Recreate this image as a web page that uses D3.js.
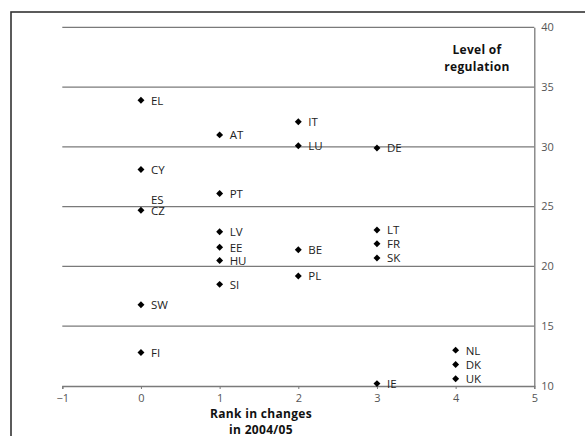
<!DOCTYPE html>
<html>
<head>
<meta charset="utf-8">
<script src="https://cdn.jsdelivr.net/npm/d3@7"></script>
<style>
  html, body { margin: 0; padding: 0; background: #fff; }
  svg { display: block; }
  text { font-family: "Open Sans", "Noto Sans", sans-serif; }
</style>
</head>
<body>
<svg id="chart" width="585" height="436"></svg>
<script>
// ---- data ----
const countries = ["EL","AT","IT","LU","DE","CY","PT","ES","CZ","LV","EE","HU","SI","BE","PL","LT","FR","SK","SW","FI","NL","DK","UK","IE"];
const rankChange = [0,1,2,2,3,0,1,0,0,1,1,1,1,2,2,3,3,3,0,0,4,4,4,3];
const regulation = [33.9,31.0,32.1,30.1,29.9,28.1,26.1,24.7,24.7,22.9,21.6,20.5,18.5,21.4,19.2,23.05,21.9,20.7,16.8,12.8,13.0,11.8,10.6,10.2];
const xTicks = [-1,0,1,2,3,4,5];
const yTicks = [10,15,20,25,30,35,40];
const xTitle = ["Rank in changes", "in 2004/05"];
const yTitle = ["Level of", "regulation"];

// label offsets (style only)
const labelShift = { ES: -11 };

const svg = d3.select("#chart");

// outer frame
svg.append("rect")
  .attr("x", 11).attr("y", 12)
  .attr("width", 600).attr("height", 460)
  .attr("fill", "none").attr("stroke", "#333").attr("stroke-width", 1.6);

const x = d3.scaleLinear().domain([-1, 5]).range([62.3, 534.3]);
const y = d3.scaleLinear().domain([10, 40]).range([386, 27.3]);

const grid = "#7a7a7a";

// horizontal gridlines
svg.append("g").selectAll("line")
  .data(yTicks.filter(v => v > 10))
  .join("line")
  .attr("x1", x(-1)).attr("x2", x(5))
  .attr("y1", d => y(d)).attr("y2", d => y(d))
  .attr("stroke", grid).attr("stroke-width", 1.3);

// x axis (bottom)
const xAxis = d3.axisBottom(x).tickValues(xTicks).tickSize(3).tickPadding(5).tickFormat(d3.format("d"));
const gx = svg.append("g").attr("transform", `translate(0,${y(10)})`).call(xAxis);
gx.select(".domain").attr("stroke", grid).attr("stroke-width", 1.3);
gx.selectAll(".tick line").attr("stroke", grid);
gx.selectAll(".tick text").attr("fill", "#555").style("font-size", "11px").style("font-family", '"Open Sans", sans-serif');

// y axis (right)
const yAxis = d3.axisRight(y).tickValues(yTicks).tickSize(0).tickPadding(7).tickFormat(d3.format("d"));
const gy = svg.append("g").attr("transform", `translate(${x(5)},0)`).call(yAxis);
gy.select(".domain").attr("stroke", grid).attr("stroke-width", 1.3);
gy.selectAll(".tick text").attr("fill", "#555").style("font-size", "11px").attr("dy", "0.3em").style("font-family", '"Open Sans", sans-serif');

// points
const pts = countries.map((c, i) => ({ c, r: rankChange[i], v: regulation[i] }));
const diamond = d3.symbol().type(d3.symbolSquare).size(24);
svg.append("g").selectAll("path")
  .data(pts.filter(d => d.c !== "ES"))
  .join("path")
  .attr("d", diamond)
  .attr("transform", d => `translate(${x(d.r)},${y(d.v)}) rotate(45)`)
  .attr("fill", "#000");

svg.append("g").selectAll("text")
  .data(pts)
  .join("text")
  .attr("x", d => x(d.r) + 10)
  .attr("y", d => y(d.v) + (labelShift[d.c] || 0))
  .attr("dy", "0.38em")
  .attr("fill", "#222")
  .style("font-size", "11.5px")
  .text(d => d.c);

// titles
svg.append("g").selectAll("text")
  .data(xTitle)
  .join("text")
  .attr("x", 261).attr("y", (d, i) => 418 + i * 16)
  .attr("text-anchor", "middle")
  .attr("font-weight", "bold").attr("fill", "#111")
  .style("font-size", "12px")
  .style("letter-spacing", "0.3px")
  .text(d => d);

svg.append("g").selectAll("text")
  .data(yTitle)
  .join("text")
  .attr("x", 477).attr("y", (d, i) => 53.5 + i * 17.4)
  .attr("text-anchor", "middle")
  .attr("font-weight", "bold").attr("fill", "#111")
  .style("font-size", "12px")
  .style("letter-spacing", "0.3px")
  .text(d => d);
</script>
</body>
</html>
